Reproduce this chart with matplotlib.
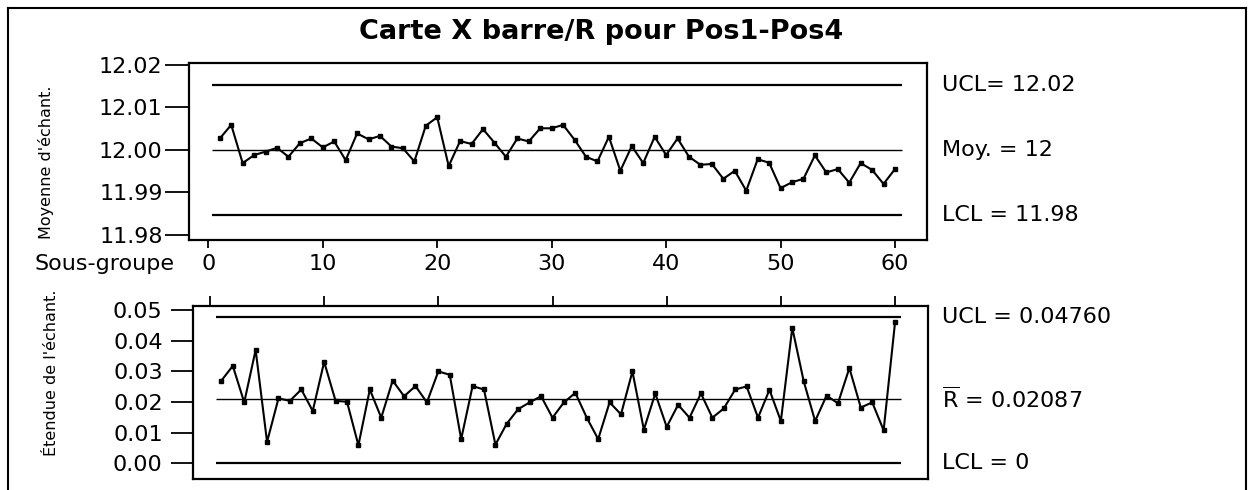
import matplotlib
matplotlib.use("Agg")
import matplotlib.pyplot as plt
import matplotlib.transforms as mtransforms
from matplotlib.lines import Line2D

plt.rcParams['font.family'] = ['DejaVu Sans']
plt.rcParams['mathtext.fontset'] = 'dejavusans'

# ---------------- data ----------------
subgroups = list(range(1, 61))
sample_means = [
    12.0027, 12.0059, 11.9969, 11.9988, 11.9996, 12.0005, 11.9984, 12.0016, 12.0027, 12.0006,
    12.0020, 11.9976, 12.0039, 12.0025, 12.0033, 12.0008, 12.0004, 11.9973, 12.0057, 12.0077,
    11.9962, 12.0021, 12.0014, 12.0049, 12.0017, 11.9984, 12.0027, 12.0020, 12.0051, 12.0051,
    12.0059, 12.0024, 11.9984, 11.9973, 12.0031, 11.9951, 12.0009, 11.9969, 12.0031, 11.9988,
    12.0027, 11.9984, 11.9965, 11.9967, 11.9932, 11.9951, 11.9904, 11.9978, 11.9970, 11.9910,
    11.9924, 11.9932, 11.9987, 11.9947, 11.9955, 11.9923, 11.9969, 11.9953, 11.9920, 11.9955,
]
sample_ranges = [
    0.0270, 0.0318, 0.0199, 0.0370, 0.0070, 0.0212, 0.0204, 0.0241, 0.0171, 0.0331,
    0.0204, 0.0201, 0.0059, 0.0241, 0.0149, 0.0270, 0.0219, 0.0252, 0.0199, 0.0300,
    0.0289, 0.0079, 0.0252, 0.0241, 0.0061, 0.0130, 0.0177, 0.0199, 0.0219, 0.0149,
    0.0199, 0.0230, 0.0149, 0.0079, 0.0199, 0.0160, 0.0300, 0.0110, 0.0228, 0.0119,
    0.0191, 0.0149, 0.0228, 0.0149, 0.0179, 0.0241, 0.0251, 0.0149, 0.0240, 0.0138,
    0.0442, 0.0268, 0.0138, 0.0221, 0.0196, 0.0311, 0.0182, 0.0199, 0.0108, 0.0460,
]
xbar_ucl, xbar_center, xbar_lcl = 12.0152, 12.0000, 11.9848
r_ucl, r_center, r_lcl = 0.04760, 0.02087, 0.0

xbar_labels = ["UCL= 12.02", "Moy. = 12", "LCL = 11.98"]
r_labels = ["UCL = 0.04760", r"$\overline{\mathrm{R}}$ = 0.02087", "LCL = 0"]
x_ticks = [0, 10, 20, 30, 40, 50, 60]
xbar_yticks = [11.98, 11.99, 12.00, 12.01, 12.02]
r_yticks = [0.00, 0.01, 0.02, 0.03, 0.04, 0.05]

title = "Carte X barre/R pour Pos1-Pos4"

# ---------------- figure ----------------
W, H = 1251, 490
fig = plt.figure(figsize=(W / 100, H / 100), dpi=100)

# outer border
for (x0, y0, x1, y1) in [(8, 8, 8, 495), (8, 8, 1246, 8), (1246, 8, 1246, 495)]:
    fig.add_artist(Line2D([x0 / W, x1 / W], [1 - y0 / H, 1 - y1 / H],
                          transform=fig.transFigure, color='black', lw=1.5))

ax1 = fig.add_axes([189 / W, 1 - 240 / H, 737.7 / W, 176.7 / H])
ax2 = fig.add_axes([193.3 / W, 1 - 479.3 / H, 734.4 / W, 173.8 / H])

tick_fs = 16
lab_fs = 16

def style(ax):
    for s in ax.spines.values():
        s.set_linewidth(1.6)

# ---- Xbar chart ----
style(ax1)
ax1.hlines([xbar_ucl, xbar_lcl], 0.3, 60.6, colors='black', lw=1.6)
ax1.hlines([xbar_center], 0.3, 60.6, colors='black', lw=1.0)
ax1.plot(subgroups, sample_means, color='black', lw=1.5, marker='s', ms=3.2)
ax1.set_xlim(-1.69, 62.77)
ax1.set_ylim(11.9788, 12.0204)
ax1.set_yticks(xbar_yticks)
ax1.set_yticklabels([f"{v:.2f}" for v in xbar_yticks], fontsize=tick_fs)
ax1.set_xticks(x_ticks)
ax1.set_xticklabels([str(v) for v in x_ticks], fontsize=tick_fs)
ax1.tick_params(axis='y', direction='out', length=17, width=1.3, pad=2)
ax1.tick_params(axis='x', direction='out', length=6, width=1.3, pad=4)
tr1 = mtransforms.blended_transform_factory(fig.transFigure, ax1.transData)
for v, t in zip([xbar_ucl, xbar_center, xbar_lcl], xbar_labels):
    ax1.text(942 / W, v, t, transform=tr1, fontsize=lab_fs, va='center', ha='left')

# ---- R chart ----
style(ax2)
ax2.hlines([r_ucl, r_lcl], 0.5, 60.5, colors='black', lw=1.6)
ax2.hlines([r_center], 0.5, 60.5, colors='black', lw=1.0)
ax2.plot(subgroups, sample_ranges, color='black', lw=1.5, marker='s', ms=3.2)
ax2.set_xlim(-1.46, 62.86)
ax2.set_ylim(-0.0052, 0.0515)
ax2.set_yticks(r_yticks)
ax2.set_yticklabels([f"{v:.2f}" for v in r_yticks], fontsize=tick_fs)
ax2.set_xticks(x_ticks)
ax2.tick_params(axis='x', top=True, bottom=False, labelbottom=False,
                direction='out', length=7, width=1.3)
ax2.tick_params(axis='y', direction='out', length=16, width=1.3, pad=6)
tr2 = mtransforms.blended_transform_factory(fig.transFigure, ax2.transData)
for v, t in zip([r_ucl, r_center, r_lcl], r_labels):
    ax2.text(942 / W, v, t, transform=tr2, fontsize=lab_fs, va='center', ha='left')

# ---- texts ----
fig.text(601 / W, 1 - 32 / H, title, fontsize=19.5, fontweight='bold', ha='center', va='center')
fig.text(175 / W, 1 - 264 / H, "Sous-groupe", fontsize=lab_fs, ha='right', va='center')
fig.text(46 / W, 1 - 162 / H, "Moyenne d'échant.", fontsize=11.5, rotation=90, ha='center', va='center')
fig.text(52 / W, 1 - 373 / H, "Étendue de l'échant.", fontsize=11.5, rotation=90, ha='center', va='center')

fig.savefig("out.png", dpi=100)
